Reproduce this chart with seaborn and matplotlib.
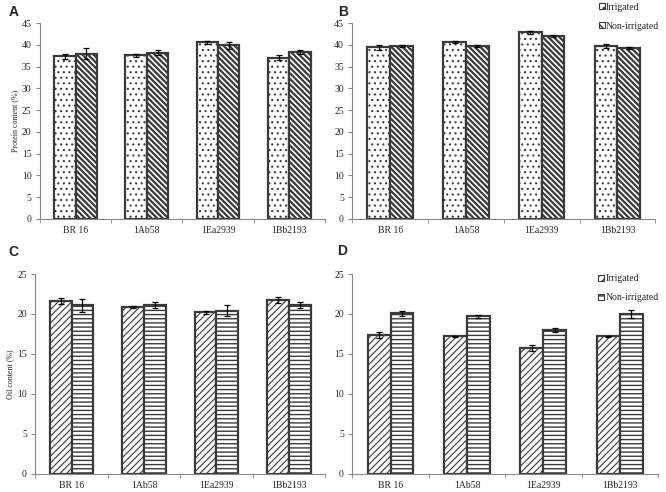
import numpy as np
import pandas as pd
import seaborn as sns
from matplotlib import pyplot as plt
from matplotlib.patches import Patch

# data
genotypes = ['BR 16', '1Ab58', '1Ea2939', '1Bb2193']
treatments = ['Irrigated', 'Non-irrigated']

# A: protein, irrigated / non-irrigated (+ error)
prot_a_irr = [37.4, 37.6, 40.6, 37.1]
prot_a_irr_err = [0.6, 0.4, 0.3, 0.5]
prot_a_non = [38.0, 38.2, 39.9, 38.4]
prot_a_non_err = [1.2, 0.6, 0.8, 0.4]

# B: protein
prot_b_irr = [39.4, 40.7, 42.9, 39.7]
prot_b_irr_err = [0.5, 0.3, 0.4, 0.4]
prot_b_non = [39.7, 39.7, 42.0, 39.3]
prot_b_non_err = [0.3, 0.2, 0.2, 0.2]

# C: oil
oil_c_irr = [21.6, 20.9, 20.2, 21.75]
oil_c_irr_err = [0.35, 0.1, 0.2, 0.35]
oil_c_non = [21.1, 21.1, 20.4, 21.1]
oil_c_non_err = [0.8, 0.4, 0.7, 0.35]

# D: oil
oil_d_irr = [17.4, 17.2, 15.75, 17.2]
oil_d_irr_err = [0.35, 0.1, 0.35, 0.05]
oil_d_non = [20.1, 19.7, 18.0, 20.0]
oil_d_non_err = [0.3, 0.2, 0.25, 0.45]

sns.set_style('ticks')
plt.rcParams['font.family'] = ['Liberation Serif', 'DejaVu Serif']
plt.rcParams['hatch.linewidth'] = 1.0

EDGE = '#3a3a3a'


def make_df(irr, non):
    return pd.DataFrame({
        'genotype': genotypes * 2,
        'treatment': [treatments[0]] * 4 + [treatments[1]] * 4,
        'value': list(irr) + list(non),
    })


def panel(ax, irr, irr_err, non, non_err, hatches, hatch_lw, ymax, ystep, ylabel):
    df = make_df(irr, non)
    sns.barplot(data=df, x='genotype', y='value', hue='treatment',
                width=0.6, gap=0, palette=['white', 'white'],
                edgecolor=EDGE, linewidth=1.6, legend=False, ax=ax)
    for cont, h, lw, errs in zip(ax.containers, hatches, hatch_lw,
                                 [irr_err, non_err]):
        xs, ys = [], []
        for bar in cont:
            bar.set_hatch(h)
            if hasattr(bar, 'set_hatch_linewidth'):
                bar.set_hatch_linewidth(lw)
            xs.append(bar.get_x() + bar.get_width() / 2)
            ys.append(bar.get_height())
        ax.errorbar(xs, ys, yerr=errs, fmt='none', ecolor='black',
                    elinewidth=0.9, capsize=2.3, capthick=0.9)
    ax.set_xlim(-0.5, 3.5)
    ax.set_ylim(0, ymax)
    ax.set_yticks(np.arange(0, ymax + 1, ystep))
    ax.set_xticks(range(4))
    ax.set_xticklabels(genotypes)
    ax.set_xticks(np.arange(-0.5, 4, 1), minor=True)
    ax.tick_params(axis='x', which='major', length=0, labelsize=7, pad=5)
    ax.tick_params(axis='x', which='minor', length=3, color='#888888')
    ax.tick_params(axis='y', length=3, color='#888888', labelsize=7, pad=3)
    ax.set_xlabel('')
    ax.set_ylabel(ylabel, fontsize=5.8, labelpad=2)
    for s in ['left', 'bottom']:
        ax.spines[s].set_color('#888888')
        ax.spines[s].set_linewidth(0.8)
    sns.despine(ax=ax)


fig = plt.figure(figsize=(6.66, 4.92), dpi=100)
ax_a = fig.add_axes([0.060, 0.555, 0.428, 0.398])
ax_b = fig.add_axes([0.529, 0.555, 0.455, 0.398])
ax_c = fig.add_axes([0.053, 0.037, 0.435, 0.406])
ax_d = fig.add_axes([0.529, 0.037, 0.459, 0.406])

prot_hatch = ['...', '\\\\\\\\\\\\']
prot_lw = [0.8, 1.6]
oil_hatch = ['/////', '----']
oil_lw = [0.8, 1.0]

panel(ax_a, prot_a_irr, prot_a_irr_err, prot_a_non, prot_a_non_err,
      prot_hatch, prot_lw, 45, 5, 'Protein content (%)')
panel(ax_b, prot_b_irr, prot_b_irr_err, prot_b_non, prot_b_non_err,
      prot_hatch, prot_lw, 45, 5, '')
panel(ax_c, oil_c_irr, oil_c_irr_err, oil_c_non, oil_c_non_err,
      oil_hatch, oil_lw, 25, 5, 'Oil content (%)')
panel(ax_d, oil_d_irr, oil_d_irr_err, oil_d_non, oil_d_non_err,
      oil_hatch, oil_lw, 25, 5, '')

for x, y, letter in [(0.013, 0.976, 'A'), (0.508, 0.976, 'B'),
                     (0.013, 0.488, 'C'), (0.506, 0.490, 'D')]:
    fig.text(x, y, letter, fontsize=10, fontweight='bold',
             family='Liberation Sans', ha='left', va='center')


def add_legend(ax, hatches, anchor):
    handles = [Patch(facecolor='white', edgecolor=EDGE, linewidth=0.8,
                     hatch=h, label=t)
               for h, t in zip(hatches, treatments)]
    ax.legend(handles=handles, loc='upper left', bbox_to_anchor=anchor,
              frameon=False, fontsize=7, handlelength=0.55, handleheight=0.55,
              handletextpad=0.15, labelspacing=1.05, borderaxespad=0,
              borderpad=0)


add_legend(ax_b, ['..', '\\\\\\\\'], (0.815, 1.105))
add_legend(ax_d, ['////', '--'], (0.805, 1.0))

fig.savefig('out.png', dpi=100)
